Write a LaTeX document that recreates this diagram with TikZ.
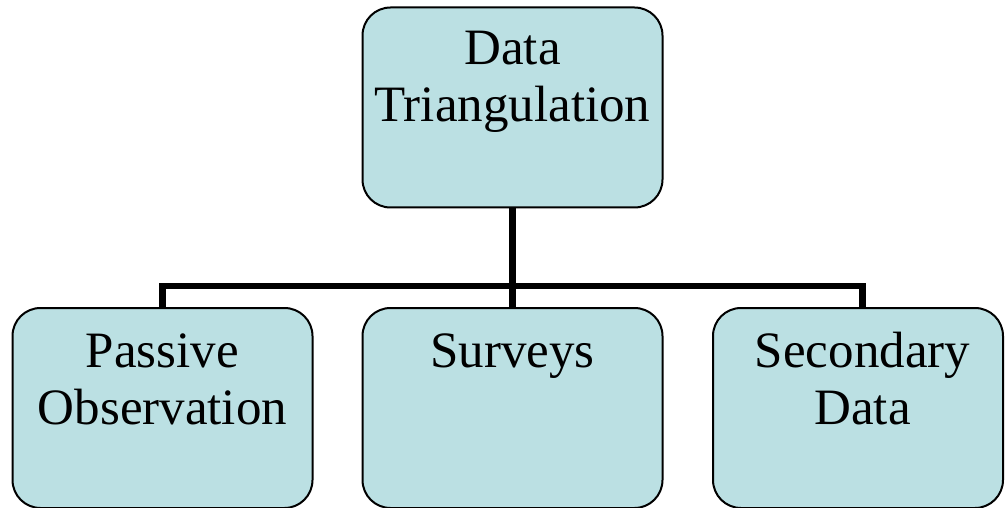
\documentclass[tikz,border=0pt]{standalone}
\usepackage{fontspec}
\setmainfont{Liberation Serif}
\definecolor{boxfill}{RGB}{187,224,227}
\begin{document}
\begin{tikzpicture}[x=1pt,y=-1pt,
  box/.style={draw=black, line width=2pt, fill=boxfill, rounded corners=28pt,
    inner sep=0pt, minimum height=200pt},
  lbl/.style={inner sep=0pt, align=center, anchor=base,
    font=\fontsize{51}{57}\selectfont},
  conn/.style={draw=black, line width=6.5pt, line join=miter, line cap=butt}]
  \useasboundingbox (0,0) rectangle (1005,508);
  % boxes
  \node[box, minimum width=300pt] (top) at (512.5,107.5) {};
  \node[box, minimum width=300pt] (b1) at (162.5,408) {};
  \node[box, minimum width=300pt] (b2) at (512.5,408) {};
  \node[box, minimum width=290pt] (b3) at (858,408) {};
  % connectors
  \coordinate (bus) at (512.5,286);
  \draw[conn] (top.south) -- (b2.north);
  \draw[conn] (b1.north) |- (bus) -| ([xshift=4.5pt]b3.north);
  % labels (anchored on the baseline of the last line)
  \node[lbl] (t0) at (512.5,122) {Data\\Triangulation};
  \node[lbl] (t1) at (162.5,424) {Passive\\Observation};
  \node[lbl] (t2) at (512.5,367) {Surveys};
  \node[lbl] (t3) at (862.5,424) {Secondary\\Data};
\end{tikzpicture}
\end{document}
